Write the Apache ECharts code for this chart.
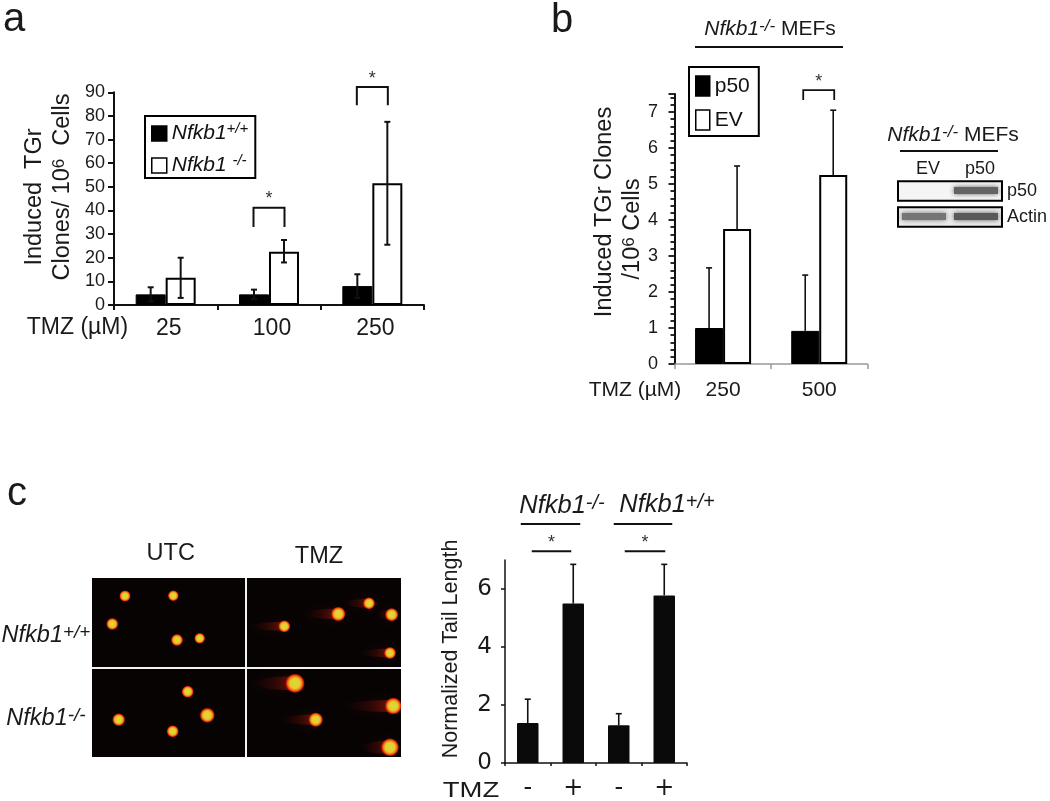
<!DOCTYPE html>
<html><head><meta charset="utf-8">
<style>html,body{margin:0;padding:0;background:#fff}#c{width:1050px;height:801px}</style>
<script src="https://cdn.jsdelivr.net/npm/echarts@6/dist/echarts.min.js"></script>
</head><body><div id="c"></div>
<script>
// Panel a
const aDoses = ['25', '100', '250'];
const aWild = [4.5, 4.5, 8];
const aNull = [11.5, 22.5, 51.5];
const aWildLow = [1.5, 2.5, 3];
const aWildHigh = [7.5, 6.5, 13];
const aNullLow = [3, 18, 25.5];
const aNullHigh = [20, 27.5, 77.5];
const aBrackets = [[1, 41.2, 33], [2, 92.2, 84.5]];
// Panel b
const bDoses = ['250', '500'];
const bP50 = [1.0, 0.92];
const bEV = [3.75, 5.25];
const bP50High = [2.67, 2.47];
const bEVHigh = [5.5, 7.05];
const bBrackets = [[1, 7.61, 7.33]];
// Panel c bars
const cTreat = ['-', '+', '-', '+'];
const cTail = [1.38, 5.5, 1.3, 5.78];
const cTailHigh = [2.2, 6.85, 1.7, 6.85];
// Panel c comet micrographs: x, y, radius, tail length
const comets = [
  [33,18,4.7,0],[81.3,17.7,4.5,0],[20.3,46,5,0],[85,62,5,0],[107.7,60.3,4.5,0],
  [95.7,113.7,5,0],[26.7,141.7,5.3,0],[115.3,137.3,6.2,0],[80.7,153.3,5,0],
  [192.3,48.3,5,36],[246.3,36,6,36],[277,25.3,5,26],[299.7,36.7,5.5,16],[298,75,5,30],
  [203,105.3,8,45],[301.3,128,7,50],[223.7,141.7,6,36],[298,169.3,7.5,30]
];
// Blot
const blotLanes = ['EV', 'p50'];
const blotRows = ['p50', 'Actin'];
const blotBands = [[1, 0, 0.68], [0, 1, 0.6], [1, 1, 0.72]];

const INK = '#111';
const FONT = 'Liberation Sans';

function errorSeries(grid, name, rows, dx, cap, lw) {
  return { type: 'custom', name, xAxisIndex: grid, yAxisIndex: grid, z: 5, silent: true,
    encode: { x: 0, y: [1, 2] }, data: rows,
    renderItem(p, api) {
      const a = api.coord([api.value(0), api.value(1)]);
      const b = api.coord([api.value(0), api.value(2)]);
      const x = a[0] + dx, s = { stroke: INK, lineWidth: lw, fill: null };
      return { type: 'group', children: [
        { type: 'line', shape: { x1: x, y1: a[1], x2: x, y2: b[1] }, style: s },
        { type: 'line', shape: { x1: x - cap, y1: b[1], x2: x + cap, y2: b[1] }, style: s },
        { type: 'line', shape: { x1: x - cap, y1: a[1], x2: x + cap, y2: a[1] }, style: s }
      ] };
    } };
}
function upperSeries(grid, name, rows, dx, cap, lw) {
  return { type: 'custom', name, xAxisIndex: grid, yAxisIndex: grid, z: 1, silent: true,
    encode: { x: 0, y: [1, 2] }, data: rows,
    renderItem(p, api) {
      const a = api.coord([api.value(0), api.value(1)]);
      const b = api.coord([api.value(0), api.value(2)]);
      const x = a[0] + dx, s = { stroke: INK, lineWidth: lw, fill: null };
      return { type: 'group', children: [
        { type: 'line', shape: { x1: x, y1: a[1], x2: x, y2: b[1] }, style: s },
        { type: 'line', shape: { x1: x - cap, y1: b[1], x2: x + cap, y2: b[1] }, style: s }
      ] };
    } };
}
function bracketSeries(grid, rows, dx1, dx2, starUp, lw) {
  return { type: 'custom', xAxisIndex: grid, yAxisIndex: grid, z: 6, silent: true,
    encode: { x: 0, y: [1, 2] }, data: rows,
    renderItem(p, api) {
      const t = api.coord([api.value(0), api.value(1)]);
      const b = api.coord([api.value(0), api.value(2)]);
      const x1 = t[0] + dx1, x2 = t[0] + dx2;
      return { type: 'group', children: [
        { type: 'polyline', shape: { points: [[x1, b[1]], [x1, t[1]], [x2, t[1]], [x2, b[1]]] },
          style: { stroke: INK, lineWidth: lw, fill: null } },
        { type: 'text', style: { text: '*', x: (x1 + x2) / 2, y: t[1] - starUp, align: 'center', verticalAlign: 'middle',
          font: '18px "' + FONT + '"', fill: '#333' } }
      ] };
    } };
}
function spanSeries(grid, from, to, val, dx1, dx2, star) {
  return { type: 'custom', xAxisIndex: grid, yAxisIndex: grid, z: 6, silent: true,
    encode: { x: 0, y: 2 }, data: [[from, to, val]],
    renderItem(p, api) {
      const a = api.coord([api.value(0), api.value(2)]);
      const b = api.coord([api.value(1), api.value(2)]);
      const x1 = a[0] + dx1, x2 = b[0] + dx2;
      const ch = [{ type: 'line', shape: { x1, y1: a[1], x2, y2: a[1] }, style: { stroke: INK, lineWidth: 2 } }];
      if (star) ch.push({ type: 'text', style: { text: '*', x: (x1 + x2) / 2, y: a[1] - 8, align: 'center', verticalAlign: 'middle',
        font: '18px "' + FONT + '"', fill: '#333' } });
      return { type: 'group', children: ch };
    } };
}

const series = [
  { type: 'bar', name: 'Nfkb1+/+', xAxisIndex: 0, yAxisIndex: 0, data: aWild, barWidth: 30, barGap: 0,
    itemStyle: { color: '#000', borderColor: '#000', borderWidth: 1 } },
  { type: 'bar', name: 'Nfkb1-/-', xAxisIndex: 0, yAxisIndex: 0, data: aNull, barWidth: 30, barGap: 0,
    itemStyle: { color: '#fff', borderColor: '#000', borderWidth: 2 } },
  errorSeries(0, 'a+/+ err', aWild.map((_, i) => [i, aWildLow[i], aWildHigh[i]]), -15, 3, 2),
  errorSeries(0, 'a-/- err', aNull.map((_, i) => [i, aNullLow[i], aNullHigh[i]]), 15, 3, 2),
  bracketSeries(0, aBrackets, -15.5, 15.5, 8.5, 2),

  { type: 'bar', name: 'p50', xAxisIndex: 1, yAxisIndex: 1, data: bP50, barWidth: 28, barGap: 0,
    itemStyle: { color: '#000', borderColor: '#000', borderWidth: 1 } },
  { type: 'bar', name: 'EV', xAxisIndex: 1, yAxisIndex: 1, data: bEV, barWidth: 28, barGap: 0,
    itemStyle: { color: '#fff', borderColor: '#000', borderWidth: 2 } },
  upperSeries(1, 'b p50 err', bP50.map((v, i) => [i, v, bP50High[i]]), -14, 3, 1.6),
  upperSeries(1, 'b EV err', bEV.map((v, i) => [i, v, bEVHigh[i]]), 14, 3, 1.6),
  bracketSeries(1, bBrackets, -16, 15, 8, 1.8),

  { type: 'bar', name: 'Tail', xAxisIndex: 2, yAxisIndex: 2, data: cTail, barWidth: 21.5,
    itemStyle: { color: '#0a0a0a', borderRadius: 1 } },
  upperSeries(2, 'c err', cTail.map((v, i) => [i, v, cTailHigh[i]]), 0, 3, 1.6),
  spanSeries(2, 0, 1, 7.3, 4, -2, true),
  spanSeries(2, 2, 3, 7.3, 6, 1, true),
  spanSeries(2, 0, 1, 8.24, -7, 7, false),
  spanSeries(2, 2, 3, 8.24, -5, 8, false),

  { type: 'custom', name: 'comets', xAxisIndex: 3, yAxisIndex: 3, silent: true, clip: true,
    encode: { x: 0, y: 1 }, data: comets,
    renderItem(p, api) {
      const c = api.coord([api.value(0), api.value(1)]);
      const r = api.value(2), t = api.value(3), ch = [];
      if (t > 0) ch.push({ type: 'polygon',
        shape: { points: [[c[0], c[1] - r * 0.9], [c[0] - t * 0.5, c[1] - r * 0.75], [c[0] - t, c[1] - r * 0.3], [c[0] - t, c[1] + r * 0.3], [c[0] - t * 0.5, c[1] + r * 0.75], [c[0], c[1] + r * 0.9]] },
        style: { fill: { type: 'linear', x: 1, y: 0, x2: 0, y2: 0, colorStops: [
          { offset: 0, color: 'rgba(200,35,12,0.55)' }, { offset: 0.45, color: 'rgba(120,18,8,0.28)' }, { offset: 1, color: 'rgba(70,8,4,0)' }] },
          shadowBlur: 8, shadowColor: 'rgba(110,15,5,0.4)' } });
      ch.push({ type: 'circle', shape: { cx: c[0], cy: c[1], r: r * 1.25 },
        style: { fill: { type: 'radial', x: 0.5, y: 0.5, r: 0.5, colorStops: [
          { offset: 0, color: '#d6dc3c' }, { offset: 0.5, color: '#e8cb30' }, { offset: 0.68, color: '#f08a14' },
          { offset: 0.84, color: '#e42808' }, { offset: 1, color: 'rgba(170,10,0,0)' }] } } });
      return { type: 'group', children: ch };
    } },

  { type: 'custom', name: 'blot frames', xAxisIndex: 4, yAxisIndex: 4, silent: true, z: 3,
    encode: { y: 0 }, data: blotRows.map((_, i) => [i]),
    renderItem(p, api) {
      const cs = p.coordSys, y = api.coord([0, api.value(0)])[1];
      return { type: 'rect', shape: { x: cs.x, y: y - 9.8, width: cs.width, height: 19.6 },
        style: { fill: 'rgba(0,0,0,0)', stroke: '#000', lineWidth: 2 } };
    } },
  { type: 'custom', name: 'blot bg', xAxisIndex: 4, yAxisIndex: 4, silent: true, z: 1,
    encode: { y: 0 }, data: blotRows.map((_, i) => [i]),
    renderItem(p, api) {
      const cs = p.coordSys, y = api.coord([0, api.value(0)])[1];
      return { type: 'rect', shape: { x: cs.x, y: y - 9.8, width: cs.width, height: 19.6 },
        style: { fill: api.value(0) === 0 ? '#f5f5f5' : '#ececec' } };
    } },
  { type: 'custom', name: 'blot bands', xAxisIndex: 4, yAxisIndex: 4, silent: true, z: 2, clip: true,
    encode: { x: 0, y: 1 }, data: blotBands,
    renderItem(p, api) {
      const c = api.coord([api.value(0), api.value(1)]), k = api.value(2);
      const g = Math.round(255 - 230 * k);
      const col = a => 'rgba(' + g + ',' + g + ',' + g + ',' + a + ')';
      return { type: 'rect', shape: { x: c[0] - 22, y: c[1] - 4, width: 44, height: 7 },
        style: { fill: col(1), shadowBlur: 5, shadowColor: col(1) } };
    } }
];

const lbl = (size, margin) => ({ color: '#1a1a1a', fontFamily: FONT, fontSize: size, margin });

function rt(x, y, text, size, extra) {
  const rich = { i: { fontFamily: FONT, fontStyle: 'italic', fontSize: size, color: '#1a1a1a' },
    s: { fontFamily: FONT, fontStyle: 'italic', fontSize: Math.round(size * 0.8), color: '#1a1a1a', verticalAlign: 'top', padding: [0, 0, 5, 0] },
    u: { fontFamily: FONT, fontSize: Math.round(size * 0.72), color: '#1a1a1a', verticalAlign: 'top', padding: [0, 0, 5, 0] },
    n: { fontFamily: FONT, fontSize: size, color: '#1a1a1a' } };
  return Object.assign({ type: 'text', x, y, z: 20, silent: true,
    style: { text, rich, fontFamily: FONT, fontSize: size, fill: '#1a1a1a', align: 'center', verticalAlign: 'middle' } }, extra || {});
}
const ROT = Math.PI / 2;
const hline = (x1, x2, y) => ({ type: 'line', z: 20, silent: true, shape: { x1, y1: y, x2, y2: y }, style: { stroke: INK, lineWidth: 2 } });

const option = {
  animation: false, backgroundColor: '#fff',
  textStyle: { fontFamily: FONT },
  grid: [
    { left: 114, top: 92.3, width: 310, height: 212.7 },
    { left: 675, top: 94, width: 192.3, height: 270 },
    { left: 505, top: 560, width: 182, height: 205 },
    { left: 92, top: 578, width: 309, height: 179, show: true, backgroundColor: '#080303', borderWidth: 0 },
    { left: 898, top: 178, width: 106, height: 52 }
  ],
  xAxis: [
    { type: 'category', gridIndex: 0, data: aDoses, axisLine: { lineStyle: { color: INK, width: 2 } }, axisLabel: Object.assign(lbl(23, 12), { padding: [0, 0, 0, 6] }), axisTick: { show: true, length: 5, lineStyle: { color: INK, width: 2 } } },
    { type: 'category', gridIndex: 1, data: bDoses, axisLine: { lineStyle: { color: '#999', width: 1.5 } }, axisTick: { show: true, length: 5, lineStyle: { color: '#999', width: 1.5 } }, axisLabel: lbl(21, 16) },
    { type: 'category', gridIndex: 2, data: cTreat, axisLine: { lineStyle: { color: INK, width: 1.5 } }, axisTick: { show: true, length: 3, lineStyle: { color: INK, width: 1.5 } }, axisLabel: Object.assign(lbl(24, 14), { fontFamily: 'DejaVu Sans' }) },
    { type: 'value', gridIndex: 3, min: 0, max: 309, show: false },
    { type: 'category', gridIndex: 4, data: blotLanes, position: 'top', axisLine: { show: false }, axisTick: { show: false }, axisLabel: Object.assign(lbl(18, 0), { padding: [0, 0, 0, 8] }) }
  ],
  yAxis: [
    { type: 'value', gridIndex: 0, min: 0, max: 90, interval: 10, splitLine: { show: false }, axisLine: { show: true, lineStyle: { color: INK, width: 2 } }, axisTick: { show: true, length: 6, lineStyle: { color: INK, width: 2 } }, axisLabel: lbl(18, 9) },
    { type: 'value', gridIndex: 1, min: 0, max: 7.5, interval: 1, splitLine: { show: false }, axisLine: { show: true, lineStyle: { color: INK, width: 2 } },
      axisTick: { show: true, length: 6.5, lineStyle: { color: INK, width: 1.8 } },
      minorTick: { show: true, splitNumber: 5, length: 4.5, lineStyle: { color: INK, width: 1.8 } },
      axisLabel: Object.assign(lbl(18, 17), { showMaxLabel: false }) },
    { type: 'value', gridIndex: 2, min: 0, max: 7, interval: 2, splitLine: { show: false }, axisLine: { show: true, lineStyle: { color: INK, width: 1.5 } },
      axisTick: { show: true, length: 4, lineStyle: { color: INK, width: 1.5 }, customValues: [0, 2, 4, 6] },
      axisLabel: Object.assign(lbl(23, 13), { fontFamily: 'DejaVu Sans', customValues: [0, 2, 4, 6] }) },
    { type: 'value', gridIndex: 3, min: 0, max: 179, inverse: true, show: false },
    { type: 'category', gridIndex: 4, data: blotRows, inverse: true, position: 'right', axisLine: { show: false }, axisTick: { show: false }, axisLabel: lbl(18, 5) }
  ],
  legend: [
    { orient: 'vertical', left: 145, top: 116, data: ['Nfkb1+/+', 'Nfkb1-/-'], icon: 'rect', itemWidth: 15, itemHeight: 15, itemGap: 9, padding: [5, 7, 2, 6],
      borderColor: '#000', borderWidth: 2, selectedMode: false, itemStyle: { borderWidth: 1.5 },
      formatter: n => n === 'Nfkb1+/+' ? '{i|Nfkb1}{s|+/+}' : '{i|Nfkb1 }{s|-/-}',
      textStyle: { padding: [0, 0, 0, 0], rich: {
        i: { fontFamily: FONT, fontStyle: 'italic', fontSize: 21, color: '#111', lineHeight: 25 },
        s: { fontFamily: FONT, fontStyle: 'italic', fontSize: 15, color: '#111', verticalAlign: 'top', lineHeight: 16 } } } },
    { orient: 'vertical', left: 689, top: 67, data: ['p50', 'EV'], icon: 'rect', itemWidth: 14, itemHeight: 20, itemGap: 10, padding: [7, 9, 4, 6],
      borderColor: '#000', borderWidth: 2, selectedMode: false, itemStyle: { borderWidth: 1.5 },
      textStyle: { fontFamily: FONT, fontSize: 21, color: '#111', lineHeight: 24 } }
  ],
  graphic: { elements: [
    rt(14, 20, '{n|a}', 40), rt(562, 21, '{n|b}', 40), rt(17, 494, '{n|c}', 40),
    // panel a
    rt(35, 197, 'Induced  TGr', 23.5, { rotation: ROT }),
    rt(63, 187, 'Clones/ 10{u|6}  Cells', 23.5, { rotation: ROT }),
    rt(77.5, 328, 'TMZ (µM)', 23),
    // panel b
    rt(770, 29, '{i|Nfkb1}{s|-/-}{n| MEFs}', 21), hline(695, 843, 47),
    rt(605, 212, 'Induced TGr Clones', 23.5, { rotation: ROT }),
    rt(633, 229, '/10{u|6} Cells', 23.5, { rotation: ROT }),
    rt(635, 390, 'TMZ (µM)', 21),
    rt(953, 135, '{i|Nfkb1}{s|-/-}{n| MEFs}', 21), hline(900, 998, 151),
    // panel c
    rt(170.7, 554, 'UTC', 23.5), rt(319, 557, 'TMZ', 23.5),
    rt(46, 635, '{i|Nfkb1}{s|+/+}', 23.5), rt(46, 718, '{i|Nfkb1}{s|-/-}', 23.5),
    rt(562, 506, '{i|Nfkb1}{s|-/-}', 25.5), rt(667, 505, '{i|Nfkb1}{s|+/+}', 25.5),
    rt(451, 649, 'Normalized Tail Length', 21.5, { rotation: ROT }),
    rt(471, 791, 'TMZ', 22, { scaleX: 1.25 }),
    // micrograph separators
    { type: 'line', z: 20, silent: true, shape: { x1: 246, y1: 578, x2: 246, y2: 757 }, style: { stroke: '#f2f2f2', lineWidth: 2 } },
    { type: 'line', z: 20, silent: true, shape: { x1: 92, y1: 668, x2: 401, y2: 668 }, style: { stroke: '#f2f2f2', lineWidth: 2 } }
  ] },
  series
};
echarts.init(document.getElementById('c'), null, { renderer: 'canvas' }).setOption(option);
</script></body></html>
